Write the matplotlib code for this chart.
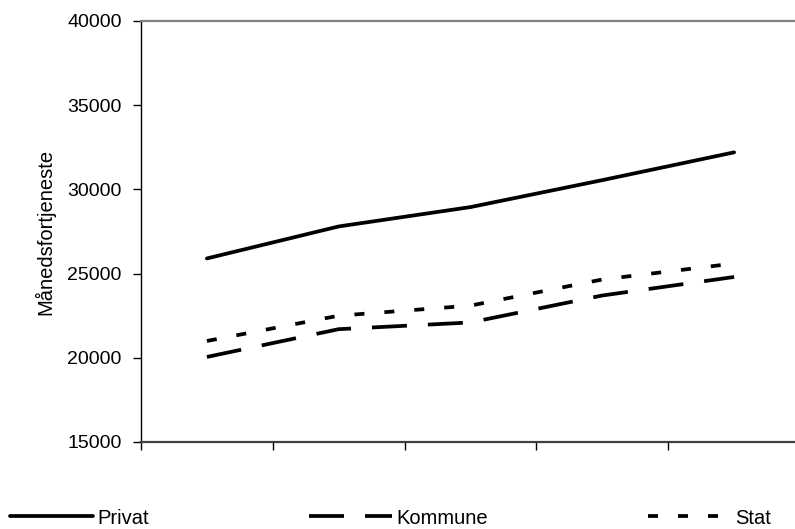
import matplotlib
matplotlib.use("Agg")
import matplotlib.pyplot as plt
import numpy as np

plt.rcParams['font.family'] = ['Liberation Sans', 'DejaVu Sans']

# Fem perioder langs x-aksen (uten etiketter)
perioder = ["", "", "", "", ""]
privat = [25900, 27800, 28950, 30550, 32200]
kommune = [20050, 21700, 22100, 23700, 24800]
stat = [21000, 22500, 23100, 24650, 25600]
y_ticks = [15000, 20000, 25000, 30000, 35000, 40000]

W, H = 795, 529
fig = plt.figure(figsize=(W / 100, H / 100), dpi=100)
# plottområdet går litt ut over høyre kant
ax = fig.add_axes([141 / W, (H - 442) / H, (800 - 141) / W, (442 - 21) / H])

x = np.arange(len(perioder))
lw = 2.7
px = 0.72  # punkter per piksel
ax.plot(x, privat, color='black', lw=lw, solid_capstyle='round',
        solid_joinstyle='round', label='Privat')
ax.plot(x, kommune, color='black', lw=lw, dashes=(35 * px / lw, 21 * px / lw),
        dash_capstyle='butt', label='Kommune')
ax.plot(x, stat, color='black', lw=lw, dashes=(10 * px / lw, 20 * px / lw),
        dash_capstyle='butt', label='Stat')

ax.set_xlim(-0.5, len(perioder) - 0.5)
ax.set_ylim(15000, 40000)
ax.set_yticks(y_ticks)
ax.set_yticklabels([str(v) for v in y_ticks], fontsize=14)
ax.set_xticks(np.arange(len(perioder) + 1) - 0.5)
ax.set_xticklabels([""] * (len(perioder) + 1))
ax.tick_params(axis='y', direction='out', length=6, width=1, pad=8)
ax.tick_params(axis='x', direction='out', length=6, width=1)

ax.spines['left'].set_color('black')
ax.spines['left'].set_linewidth(1)
ax.spines['top'].set_color('#808080')
ax.spines['top'].set_linewidth(1.6)
ax.spines['bottom'].set_color('#404040')
ax.spines['bottom'].set_linewidth(1.6)
ax.spines['right'].set_visible(False)

ax.set_ylabel("Månedsfortjeneste", fontsize=14.5, va='center')
ax.yaxis.set_label_coords((45 - 141) / (800 - 141), 0.5)

fig.legend(loc='center left', bbox_to_anchor=(10 / W, 11 / H), ncol=3,
           frameon=False, fontsize=14.5, handlelength=4.13, handletextpad=0.2,
           columnspacing=7.95, borderpad=0, borderaxespad=0)

fig.savefig("out.png", dpi=100)
